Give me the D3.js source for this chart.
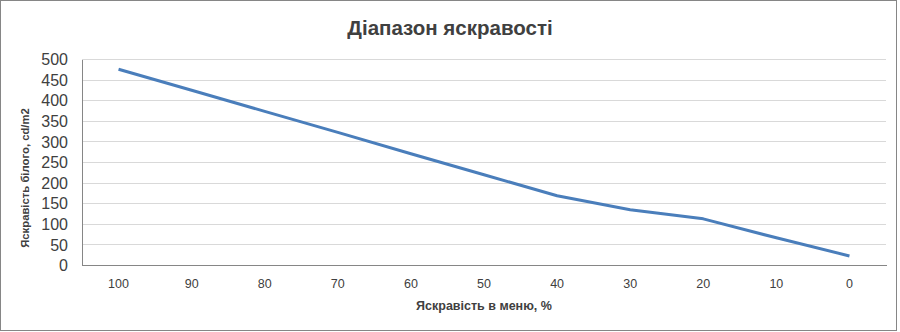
<!DOCTYPE html>
<html lang="uk">
	<head>
		<meta charset="utf-8">
		<title>Діапазон яскравості</title>
		<script src="https://d3js.org/d3.v7.min.js"></script>
		<style>
			body { margin: 0; background: #ffffff; }
			text { font-family: "Liberation Sans", Arial, sans-serif; fill: #404040; }
		</style>
	</head>
	<body>
		<div id="chart"></div>

		<script>
			// Data
			let categories = ["100", "90", "80", "70", "60", "50", "40", "30", "20", "10", "0"];
			let brightness = [475, 424, 373, 322, 270, 219, 168, 134, 112, 66, 22];
			let yTicks = [0, 50, 100, 150, 200, 250, 300, 350, 400, 450, 500];

			let titleText = "Діапазон яскравості";
			let xTitle = "Яскравість в меню, %";
			let yTitle = "Яскравість білого, cd/m2";

			// SVG size and margins
			let outer_width = 900;
			let outer_height = 332;
			let margin = {top: 59, right: 14, bottom: 67, left: 82};
			let inner_width = outer_width - margin.left - margin.right;
			let inner_height = outer_height - margin.top - margin.bottom;

			let svg = d3.select("#chart")
						.append("svg")
						.attr("width", outer_width)
						.attr("height", outer_height);

			// outer frame
			svg.append("rect")
				.attr("x", 0.5)
				.attr("y", 0.5)
				.attr("width", 896)
				.attr("height", 330)
				.attr("fill", "#ffffff")
				.attr("stroke", "#868686")
				.attr("stroke-width", 1);

			let g = svg.append("g")
					.attr("transform", "translate(" + margin.left + "," + margin.top + ")");

			// scales
			let xScale = d3.scaleBand()
							.domain(categories)
							.range([0, inner_width]);

			let yScale = d3.scaleLinear()
							.domain([0, 500])
							.range([inner_height, 0]);

			// gridlines
			g.append("g")
				.attr("class", "grid")
				.call(d3.axisLeft(yScale).tickValues(yTicks).tickSize(-inner_width).tickFormat(""))
				.call(function(sel) {
					sel.select(".domain").remove();
					sel.selectAll("line").attr("stroke", "#d9d9d9").attr("shape-rendering", "crispEdges");
				});

			// y axis labels
			let yAxis = d3.axisLeft(yScale).tickValues(yTicks).tickSize(0).tickPadding(14);
			g.append("g")
				.attr("class", "axis")
				.call(yAxis)
				.call(function(sel) {
					sel.select(".domain").attr("stroke", "#868686").attr("shape-rendering", "crispEdges");
					sel.selectAll("text")
						.style("font-size", "16px")
						.attr("fill", "#1a1a1a")
						.attr("dy", "0.36em");
				});

			// x axis
			let xAxis = d3.axisBottom(xScale).tickSize(0).tickPadding(14);
			g.append("g")
				.attr("class", "axis")
				.attr("transform", "translate(0," + inner_height + ")")
				.call(xAxis)
				.call(function(sel) {
					sel.select(".domain").attr("stroke", "#868686").attr("shape-rendering", "crispEdges");
					sel.selectAll("text")
						.style("font-size", "12.5px")
						.attr("fill", "#262626");
				});

			// the line
			let line = d3.line()
						.x(function(d, i) { return xScale(categories[i]) + xScale.bandwidth() / 2; })
						.y(function(d) { return yScale(d); });

			g.append("path")
				.datum(brightness)
				.attr("d", line)
				.attr("fill", "none")
				.attr("stroke", "#4a7ebb")
				.attr("stroke-width", 3)
				.attr("stroke-linejoin", "round");

			// titles
			svg.append("text")
				.attr("x", 450)
				.attr("y", 35)
				.attr("text-anchor", "middle")
				.style("font-size", "20.5px")
				.style("font-weight", "bold")
				.attr("fill", "#595959")
				.text(titleText);

			svg.append("text")
				.attr("x", margin.left + inner_width / 2)
				.attr("y", 310)
				.attr("text-anchor", "middle")
				.style("font-size", "12.5px")
				.style("font-weight", "bold")
				.attr("fill", "#404040")
				.text(xTitle);

			svg.append("text")
				.attr("transform", "translate(29,178) rotate(-90)")
				.attr("text-anchor", "middle")
				.style("font-size", "11.3px")
				.style("font-weight", "bold")
				.attr("fill", "#000000")
				.text(yTitle);
		</script>
	</body>
</html>
